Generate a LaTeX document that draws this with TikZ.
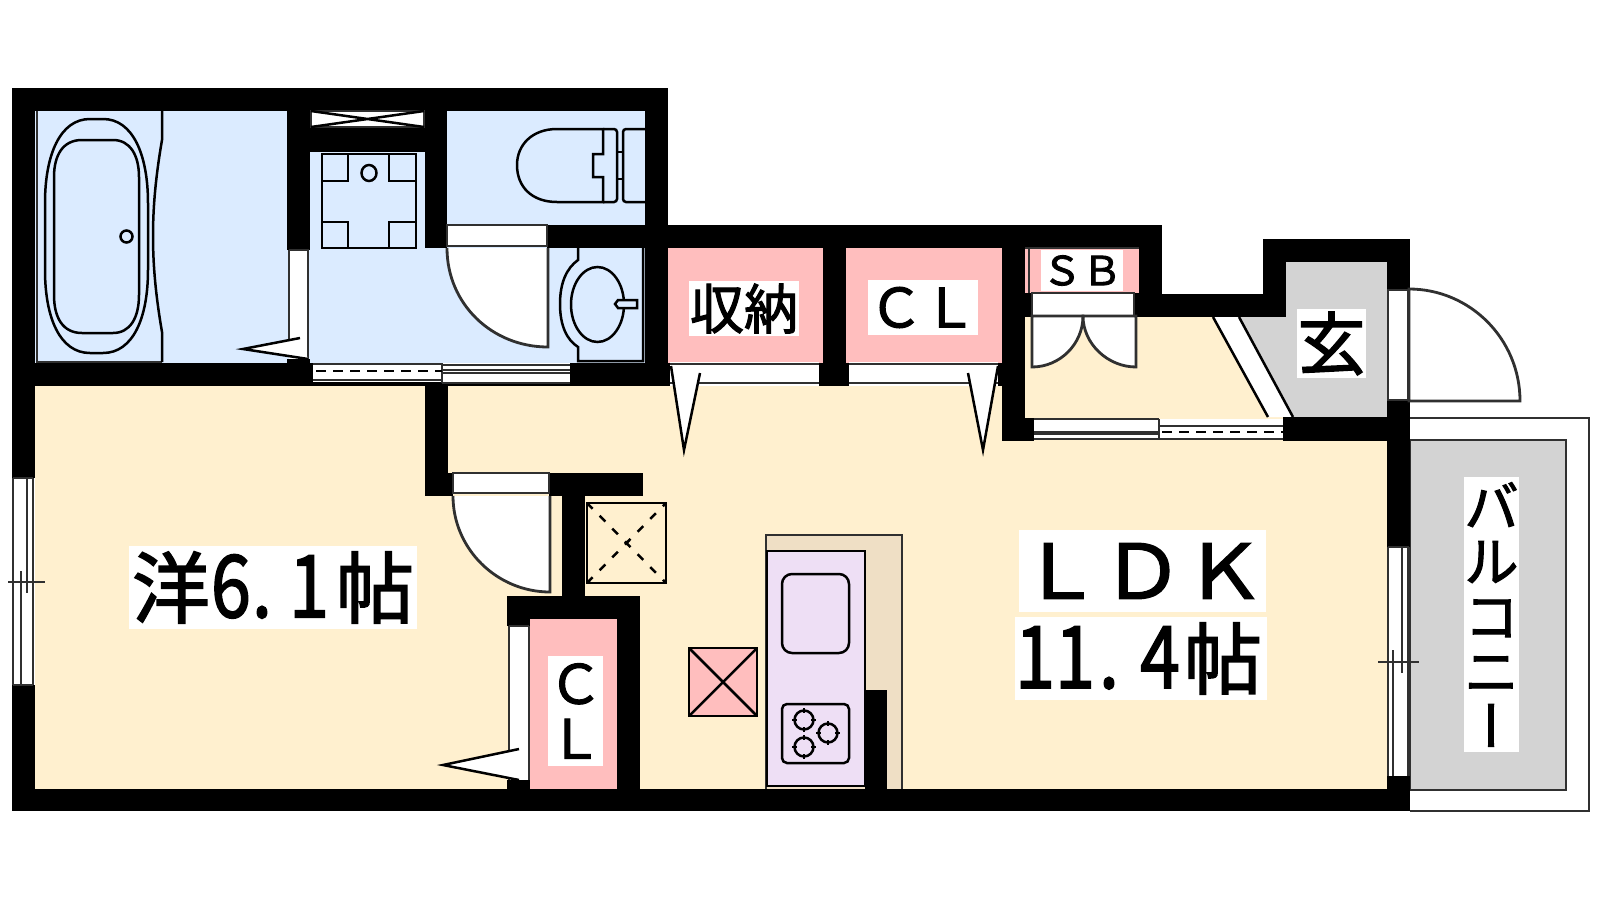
\documentclass[tikz,border=0pt]{standalone}
\usepackage{fontspec}
\usepackage{graphicx}
\setmainfont{Noto Sans CJK JP}[FakeBold=2]
\newfontfamily\cjkv[RawFeature={+vert},FakeBold=2]{Noto Sans CJK JP}
\definecolor{bluef}{HTML}{DBEBFF}
\definecolor{yelf}{HTML}{FFF0CF}
\definecolor{pinkf}{HTML}{FFBEBE}
\definecolor{grayf}{HTML}{D3D3D3}
\definecolor{lavf}{HTML}{EEDFF5}
\definecolor{beigef}{HTML}{EFDFC5}
\definecolor{ln}{HTML}{303030}
\newcommand{\dg}[2]{\makebox[#1pt][c]{\scalebox{1}[1.2]{#2}}}
\newcommand{\kj}[1]{{\fontsize{39}{39}\selectfont #1}}
\tikzset{
  wall/.style={fill=black},
  thinl/.style={draw=ln,line width=1.1pt},
  fix/.style={draw=black,line width=1.25pt},
  doorf/.style={fill=white,draw=ln,line width=1.4pt},
  lab/.style={fill=white,inner sep=0pt,text=black,align=center},
}
\begin{document}
\begin{tikzpicture}[x=0.5pt,y=-0.5pt]
\useasboundingbox (0,0) rectangle (1600,900);
\fill[white] (0,0) rectangle (1600,900);
% floor colours
\fill[bluef] (35,111) rectangle (645,363);
\fill[yelf] (35,386) rectangle (1387,789);
\fill[yelf] (1025,317) rectangle (1300,420);
\fill[pinkf] (668,248) rectangle (823,363);
\fill[pinkf] (846,248) rectangle (1002,363);
\fill[pinkf] (1025,248) rectangle (1139,293);
\fill[pinkf] (530,619) rectangle (617,789);
\fill[grayf] (1239,317) -- (1286,317) -- (1286,262) -- (1387,262) -- (1387,417) -- (1293,417) -- cycle;
\fill[grayf] (1410,440) rectangle (1566,790);
\draw[thinl] (1410,440) rectangle (1566,790);
\draw[thinl] (1410,418) -- (1589,418) -- (1589,811) -- (1410,811);
% stair strip
\fill[white] (1213,317) -- (1239,317) -- (1293,417) -- (1268,417) -- cycle;
\draw[fix] (1213,317) -- (1268,417) (1239,317) -- (1293,417);
% walls
\fill[wall] (12,88) rectangle (668,111);
\fill[wall] (12,88) rectangle (35,478);
\fill[wall] (12,685) rectangle (35,811);
\fill[wall] (12,789) rectangle (1410,811);
\fill[wall] (12,363) rectangle (313,386);
\fill[wall] (313,382) rectangle (570,386);
\fill[wall] (570,363) rectangle (668,386);
\fill[wall] (287,111) rectangle (310,250);
\fill[wall] (287,359) rectangle (310,363);
\fill[wall] (310,127) rectangle (425,152);
\fill[wall] (425,111) rectangle (447,248);
\fill[wall] (645,88) rectangle (668,386);
\fill[wall] (547,225) rectangle (1162,248);
\fill[wall] (645,363) rectangle (670,386);
\fill[wall] (819,363) rectangle (849,386);
\fill[wall] (823,248) rectangle (846,386);
\fill[wall] (998,363) rectangle (1025,386);
\fill[wall] (1002,248) rectangle (1025,441);
\fill[wall] (1139,225) rectangle (1162,317);
\fill[wall] (1134,293) rectangle (1162,317);
\fill[wall] (1162,294) rectangle (1286,317);
\fill[wall] (1025,293) rectangle (1032,317);
\fill[wall] (1263,239) rectangle (1410,262);
\fill[wall] (1263,239) rectangle (1286,317);
\fill[wall] (1387,239) rectangle (1410,290);
\fill[wall] (1387,400) rectangle (1410,547);
\fill[wall] (1387,776) rectangle (1410,811);
\fill[wall] (1283,417) rectangle (1410,441);
\fill[wall] (1002,418) rectangle (1034,441);
\fill[wall] (1159,419) rectangle (1283,426);
\fill[wall] (425,386) rectangle (448,496);
\fill[wall] (425,473) rectangle (453,496);
\fill[wall] (549,473) rectangle (643,496);
\fill[wall] (562,496) rectangle (585,596);
\fill[wall] (507,596) rectangle (640,619);
\fill[wall] (617,596) rectangle (640,789);
\fill[wall] (507,596) rectangle (530,626);
\fill[wall] (507,780) rectangle (530,789);
% bath
\draw[fix,draw=ln] (37,111) -- (37,362) -- (162,362);
\draw[fix] (162,111) -- (162,140) .. controls (156,175) and (153,205) .. (153,236) .. controls (153,267) and (156,297) .. (162,332) -- (162,362);
\draw[fix] (90,119) -- (103,119) .. controls (133,119) and (148,155) .. (148,203) -- (148,270) .. controls (148,318) and (133,353) .. (103,353) -- (90,353) .. controls (60,353) and (45,318) .. (45,270) -- (45,203) .. controls (45,155) and (60,119) .. (90,119) -- cycle;
\draw[fix] (82,140) -- (113,140) .. controls (130,140) and (139,155) .. (139,177) -- (139,295) .. controls (139,318) and (130,333) .. (113,333) -- (82,333) .. controls (63,333) and (54,318) .. (54,295) -- (54,177) .. controls (54,155) and (63,140) .. (82,140) -- cycle;
\draw[fix] (126.5,236.5) circle (6);
% duct
\draw[doorf] (311,111) rectangle (424,127);
\draw[fix] (311,111) -- (424,127) (311,127) -- (424,111);
% washer pan
\draw[fix] (322,154) rectangle (416,248);
\draw[fix] (322,181) -- (348,181) -- (348,154) (389,154) -- (389,181) -- (416,181);
\draw[fix] (322,222) -- (348,222) -- (348,248) (389,248) -- (389,222) -- (416,222);
\draw[fix] (369,173) ellipse (7.5 and 8);
% bath door
\fill[white] (289,250) rectangle (308,359);
\draw[thinl] (289,250) -- (289,354) (289,250) -- (308,250) -- (308,359);
\fill[white] (300,338) -- (243,349) -- (308,359) -- cycle;
\draw[fix] (300,338) -- (243,349) -- (308,359);
% wc door
\draw[doorf] (447,225) rectangle (547,246);
\draw[doorf] (447,248) .. controls (447,304) and (492,347) .. (548,347) -- (548,248);
% toilet
\draw[fix] (603,129) -- (557,129) .. controls (532,129) and (517,145) .. (517,165) .. controls (517,187) and (532,202) .. (557,202) -- (603,202) -- (603,177) -- (593,177) -- (593,154) -- (603,154) -- cycle;
\draw[fix,rounded corners=1.5pt] (603,129) -- (617,129) -- (617,202) -- (603,202);
\draw[fix] (617,152) -- (623,152) (617,179) -- (623,179);
\draw[fix,rounded corners=1.5pt] (645,129) -- (623,129) -- (623,202) -- (645,202);
% sink
\draw[fix] (578,248) -- (578,260) .. controls (567,268) and (560,282) .. (560,304) .. controls (560,326) and (567,340) .. (578,347) -- (578,361) -- (643,361) -- (643,248);
\draw[fix] (597.5,304.5) ellipse (26.5 and 37.5);
\draw[fix,fill=bluef] (637,300) -- (618,300) -- (615,304) -- (618,308) -- (637,308) -- cycle;
% bottom sliding doors of wash room
\fill[white] (313,363) rectangle (570,382);
\draw[thinl] (442,363) -- (442,383);
\draw[thinl] (442,365) -- (570,365) (442,370) -- (570,370) (442,373) -- (570,373) (442,383) -- (570,383);
\draw[fix,dashed,dash pattern=on 5pt off 3.5pt] (316,371) -- (442,371);
\draw[thinl] (313,364) -- (442,364) (313,380) -- (442,380);
% closets doors
\fill[white] (670,362) rectangle (819,386);
\draw[thinl] (670,364) -- (819,364) (670,383) -- (819,383);
\fill[white] (849,362) rectangle (998,386);
\draw[thinl] (849,364) -- (998,364) (849,383) -- (998,383);
\fill[white] (671,366) -- (684,450) -- (700,373) -- cycle;
\draw[fix] (671,366) -- (684,450) -- (700,373);
\fill[white] (998,366) -- (983,450) -- (968,373) -- cycle;
\draw[fix] (998,366) -- (983,450) -- (968,373);
% SB
\draw[thinl] (1029,248) -- (1029,293);
\draw[thinl] (1025,248) -- (1139,248);
\draw[doorf] (1032,293) rectangle (1134,316);
\draw[doorf] (1032,316) -- (1032,367) .. controls (1060,367) and (1083,344) .. (1083,316) -- cycle;
\draw[doorf] (1136,316) -- (1136,367) .. controls (1108,367) and (1083,344) .. (1083,316) -- cycle;
% lower hall window
\fill[white] (1034,419) rectangle (1283,439);
\draw[thinl] (1034,419) -- (1159,419) (1034,432) -- (1159,432) (1034,434) -- (1159,434) (1034,439) -- (1283,439) (1159,419) -- (1159,439);
\draw[fix,dashed,dash pattern=on 5pt off 3.5pt] (1162,432) -- (1283,432);
\draw[thinl] (1159,426) -- (1283,426);
% entrance door
\fill[white] (1388,290) rectangle (1408,400);
\draw[thinl] (1388,290) rectangle (1408,400);
\draw[doorf] (1409,289) .. controls (1470,289) and (1520,339) .. (1520,401) -- (1409,401) -- cycle;
% right window
\fill[white] (1388,547) rectangle (1409,776);
\draw[thinl] (1388,547) -- (1388,776) (1408,547) -- (1408,776) (1388,547) -- (1409,547);
\draw[thinl] (1393,650) -- (1393,776) (1402,547) -- (1402,673);
\draw[thinl] (1378,662) -- (1419,662);
% left window
\fill[white] (13,478) rectangle (33,685);
\draw[thinl] (13,478) -- (13,685) (33,478) -- (33,685) (13,478) -- (33,478) (13,685) -- (33,685);
\draw[thinl] (21,571) -- (21,685) (27,478) -- (27,593);
\draw[thinl] (8,582) -- (45,582);
% room door
\draw[doorf] (453,473) rectangle (549,493);
\draw[doorf] (453,496) .. controls (453,549) and (497,592) .. (550,592) -- (550,496);
% dashed box
\draw[fix] (587,503) rectangle (666,583);
\draw[fix,dashed,dash pattern=on 4pt off 5pt] (587,503) -- (666,583) (587,583) -- (666,503);
% pink box
\draw[fix,fill=pinkf] (689,648) rectangle (757,716);
\draw[fix] (689,648) -- (757,716) (689,716) -- (757,648);
% closet door
\fill[white] (509,626) rectangle (529,780);
\draw[thinl] (509,626) -- (509,780) (529,626) -- (529,780) (509,626) -- (529,626);
\fill[white] (443,765) -- (519,749) -- (519,780) -- cycle;
\draw[fix] (519,749) -- (443,765) -- (519,780);
% kitchen
\fill[beigef] (766,535) rectangle (902,789);
\draw[thinl] (902,789) -- (902,535) -- (766,535) -- (766,789);
\draw[fix,fill=lavf] (767,551) rectangle (865,786);
\fill[wall] (865,690) rectangle (887,789);
\draw[fix,rounded corners=5pt] (782,574) rectangle (849,653);
\draw[fix,rounded corners=2.5pt] (782,704) rectangle (849,763);
\foreach \cx/\cy in {804/720,828/733,804/747}{
  \draw[fix] (\cx,\cy) circle (9.5);
  \draw[fix] (\cx-12,\cy) -- (\cx-7,\cy) (\cx+7,\cy) -- (\cx+12,\cy) (\cx,\cy-12) -- (\cx,\cy-7) (\cx,\cy+7) -- (\cx,\cy+12);
}
% labels
\node[lab,minimum width=288*0.5pt,minimum height=83*0.5pt,font=\fontsize{36}{36}\selectfont] (yo) at (273,587.5) {\kj{洋}\dg{21}{6}\dg{10}{.}\hspace{5pt}\dg{27}{1}\kj{帖}};
\node[lab,minimum width=247*0.5pt,minimum height=82*0.5pt,font=\fontsize{41}{41}\selectfont] (ldk) at (1142.5,571) {\scalebox{1}[0.92]{ＬＤＫ}};
\node[lab,minimum width=248*0.5pt,minimum height=83*0.5pt,font=\fontsize{36}{36}\selectfont] (kit) at (1141,658.5) {\dg{20}{1}\dg{20}{1}\dg{14}{.}\hspace{6.5pt}\dg{24}{4}\kj{帖}\hspace{2.5pt}};
\node[lab,minimum width=110*0.5pt,minimum height=55*0.5pt,font=\fontsize{27}{27}\selectfont] (st1) at (744,308.5) {収納};
\node[lab,minimum width=110*0.5pt,minimum height=55*0.5pt,font=\fontsize{27}{27}\selectfont] (st2) at (923,307.5) {ＣＬ};
\node[lab,minimum width=82*0.5pt,minimum height=41*0.5pt,font=\fontsize{20}{20}\selectfont] (sb) at (1082,270.5) {ＳＢ};
\node[lab,minimum width=69*0.5pt,minimum height=69*0.5pt,font=\fontsize{34}{34}\selectfont] (gen) at (1331.5,343.5) {玄};
\node[lab,minimum width=55*0.5pt,minimum height=110*0.5pt,font=\fontsize{27}{27.5}\selectfont] (cl3) at (575.5,711) {Ｃ\\Ｌ};
\node[lab,minimum width=55*0.5pt,minimum height=275*0.5pt,font=\fontsize{27}{27.5}\selectfont] (bal) at (1491.5,614.5) {バ\\ル\\コ\\ニ\\{\cjkv ー}};
\end{tikzpicture}
\end{document}
